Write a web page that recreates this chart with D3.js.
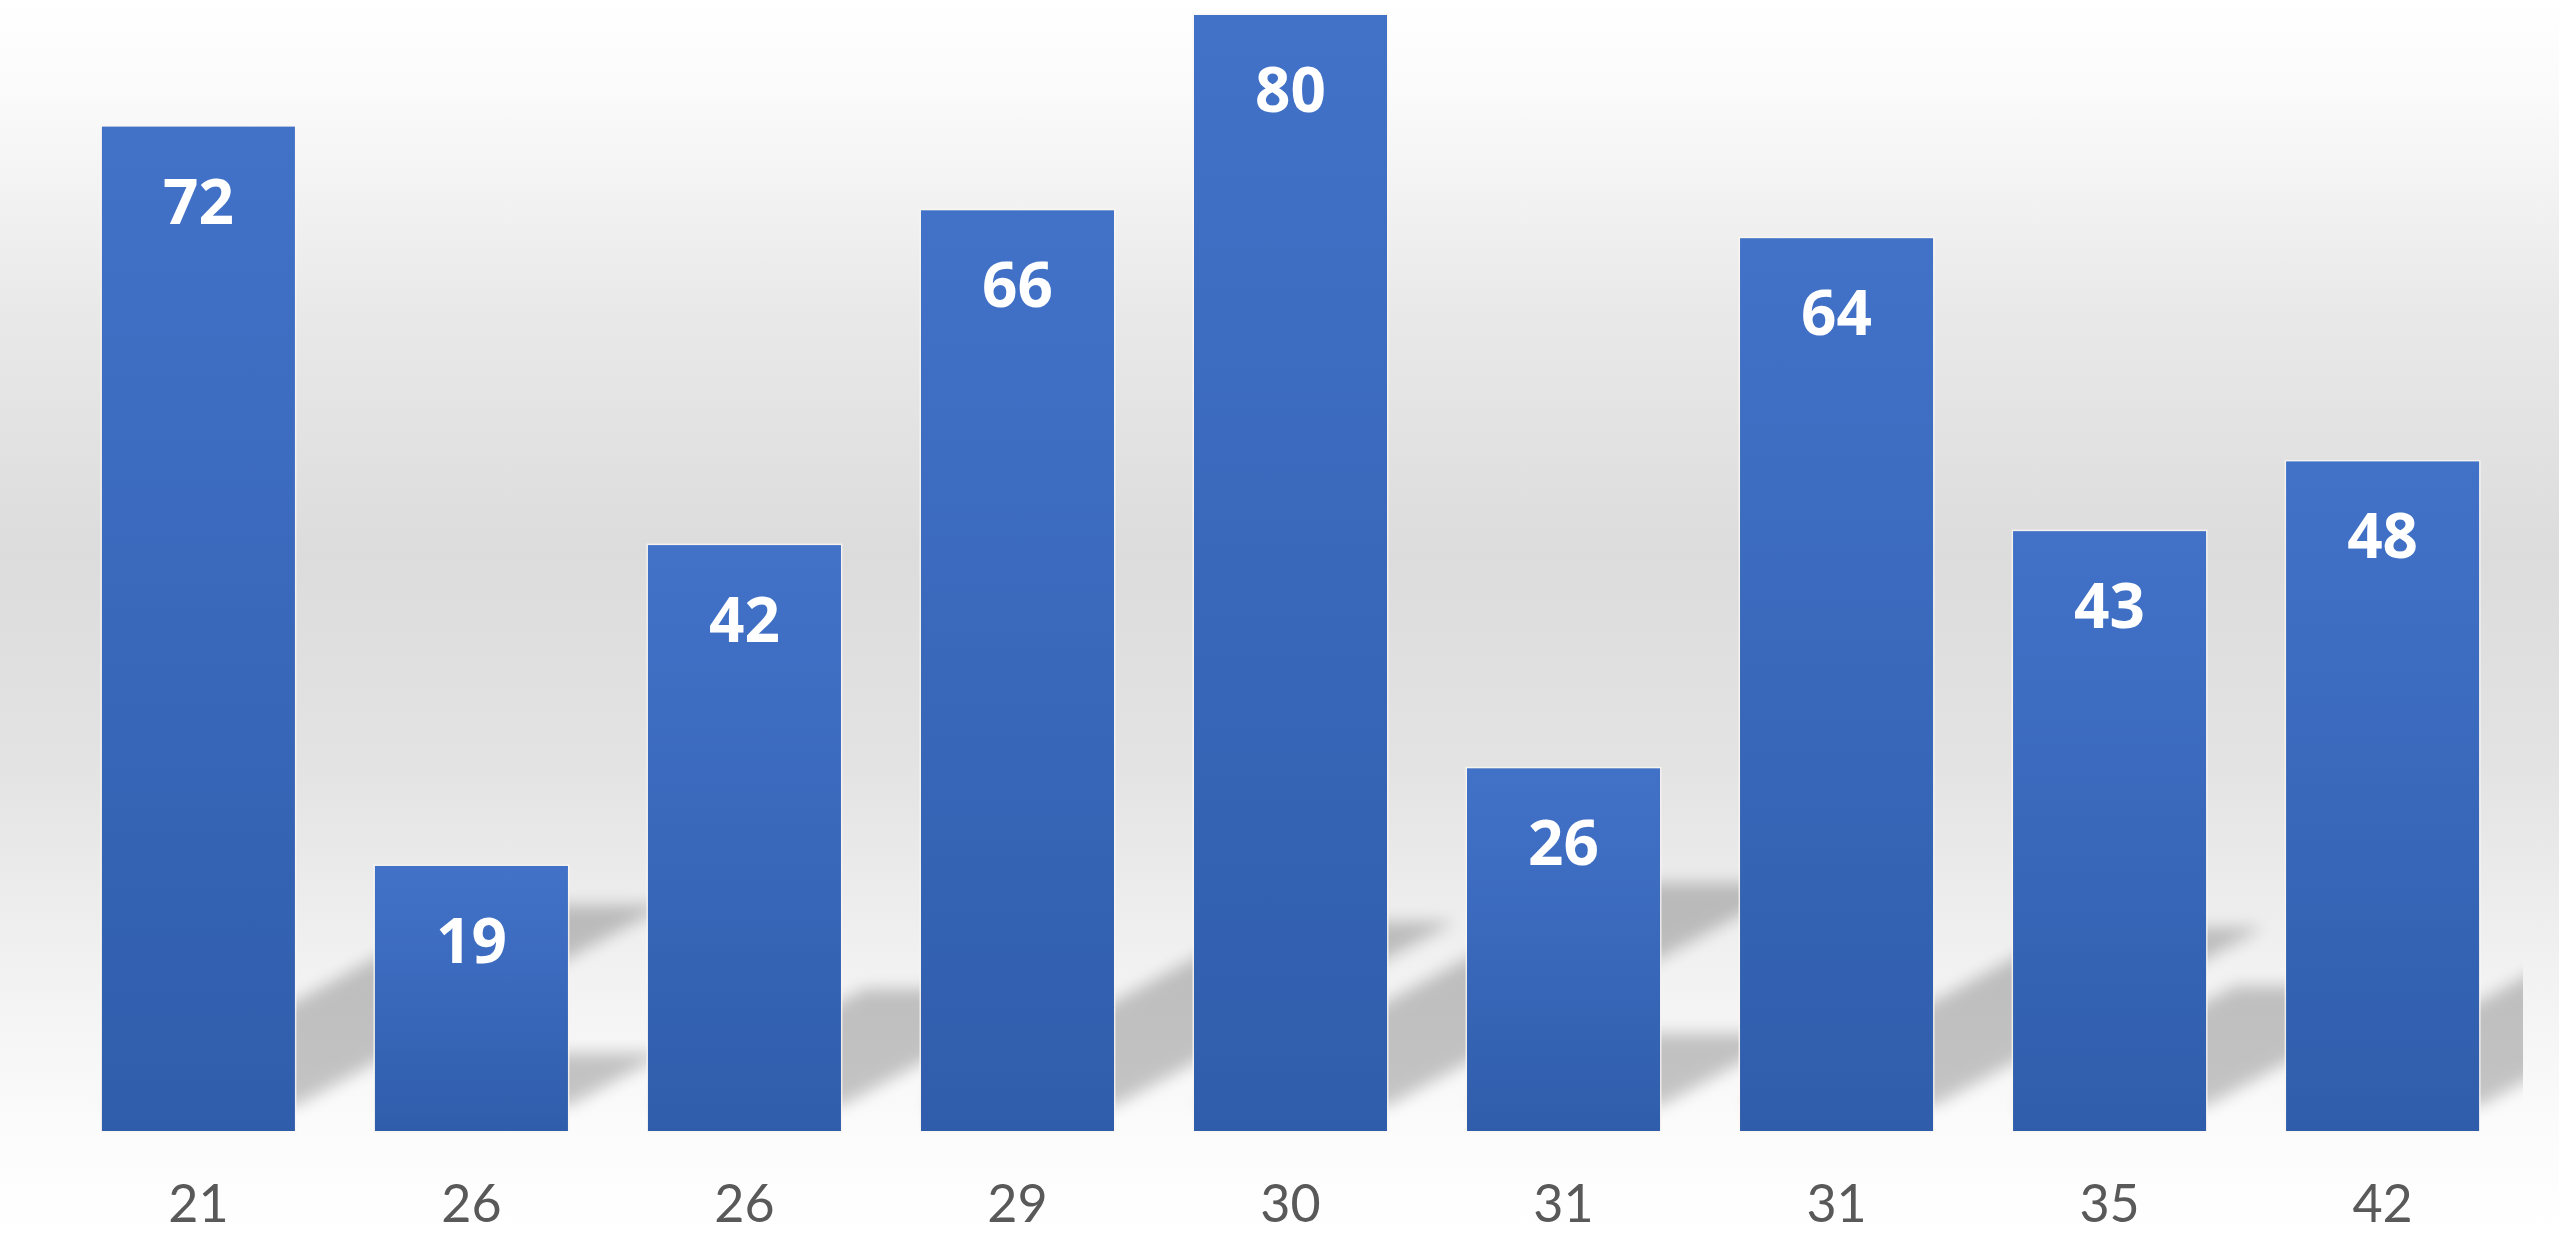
<!DOCTYPE html>
<html>
<head>
<meta charset="utf-8">
<script src="https://cdn.jsdelivr.net/npm/d3@7"></script>
<style>
  html, body { margin: 0; padding: 0; background: #ffffff; overflow: hidden; }
  svg { display: block; }
</style>
</head>
<body>
<div id="chart"></div>
<script>
// ---- data ----
const categories = ["21", "26", "26", "29", "30", "31", "31", "35", "42"];
const values = [72, 19, 42, 66, 80, 26, 64, 43, 48];
const yDomain = [0, 80];

// ---- layout ----
const W = 2559, H = 1233;
const baseY = 1131, topY = 15;
const plotRight = 2523;

const svg = d3.select("#chart").append("svg")
  .attr("width", W).attr("height", H);

const defs = svg.append("defs");

// background gradient
const bg = defs.append("linearGradient").attr("id", "bgGrad")
  .attr("x1", 0).attr("y1", 0).attr("x2", 0).attr("y2", 1);
[[0, "#ffffff"], [0.08, "#fafafa"], [0.25, "#e9e9e9"], [0.45, "#dcdcdc"],
 [0.62, "#e3e3e3"], [0.78, "#f1f1f1"], [0.91, "#fbfbfb"], [1, "#ffffff"]]
  .forEach(([o, c]) => bg.append("stop").attr("offset", o).attr("stop-color", c));

// bar gradient
const bar = defs.append("linearGradient").attr("id", "barGrad")
  .attr("x1", 0).attr("y1", 0).attr("x2", 0).attr("y2", 1);
[[0, "#4272c8"], [0.5, "#3968bb"], [1, "#305dab"]]
  .forEach(([o, c]) => bar.append("stop").attr("offset", o).attr("stop-color", c));

// blur for shadows
defs.append("filter").attr("id", "blur")
  .attr("x", "-20%").attr("y", "-20%").attr("width", "140%").attr("height", "140%")
  .append("feGaussianBlur").attr("stdDeviation", 8);

defs.append("clipPath").attr("id", "plotClip")
  .append("rect").attr("x", 0).attr("y", 0).attr("width", plotRight).attr("height", H);

svg.append("rect").attr("x", 0).attr("y", 0).attr("width", W).attr("height", H)
  .attr("fill", "url(#bgGrad)");

// ---- scales ----
const x = d3.scaleBand()
  .domain(d3.range(categories.length))
  .range([20, 2561])
  .paddingInner(0.293)
  .paddingOuter(0.3);

const y = d3.scaleLinear().domain(yDomain).range([baseY, topY]);

// ---- perspective shadows ----
const shadowS = 0.2, shadowK = 0.37, shadowLift = 25;
const shadowBase = baseY - shadowLift;
const shadowG = svg.append("g").attr("clip-path", "url(#plotClip)")
  .append("g").attr("filter", "url(#blur)").attr("opacity", 0.21);

shadowG.selectAll("path").data(values).join("path")
  .attr("fill", "#000")
  .attr("d", (d, i) => {
    const h = baseY - y(d);
    const x0 = x(i), x1 = x(i) + x.bandwidth();
    const dx = shadowK * h, dy = shadowS * h;
    return `M${x0},${shadowBase}L${x1},${shadowBase}L${x1 + dx},${shadowBase - dy}L${x0 + dx},${shadowBase - dy}Z`;
  });

// ---- bars ----
const barsG = svg.append("g");
barsG.selectAll("rect.halo").data(values).join("rect")
  .attr("class", "halo")
  .attr("x", (d, i) => x(i) - 1.5)
  .attr("y", d => y(d) - 1.5)
  .attr("width", x.bandwidth() + 3)
  .attr("height", d => baseY - y(d) + 3)
  .attr("fill", "#fbf8f2")
  .attr("opacity", 0.8);

barsG.selectAll("rect.bar").data(values).join("rect")
  .attr("class", "bar")
  .attr("x", (d, i) => x(i))
  .attr("y", d => y(d))
  .attr("width", x.bandwidth())
  .attr("height", d => baseY - y(d))
  .attr("fill", "url(#barGrad)");

// ---- data labels ----
svg.append("g").selectAll("text").data(values).join("text")
  .attr("x", (d, i) => x(i) + x.bandwidth() / 2)
  .attr("y", d => y(d) + 97)
  .attr("text-anchor", "middle")
  .attr("font-family", "'Open Sans', Lato, sans-serif")
  .attr("font-weight", 700)
  .attr("font-size", 62)
  .attr("fill", "#ffffff")
  .text(d => d);

// ---- category axis ----
const xAxis = d3.axisBottom(x).tickSize(0).tickFormat(i => categories[i]);
const axisG = svg.append("g")
  .attr("transform", `translate(0, ${baseY})`)
  .call(xAxis);
axisG.select(".domain").remove();
axisG.selectAll("text")
  .attr("y", 91)
  .attr("dy", 0)
  .attr("font-family", "Lato, 'Open Sans', sans-serif")
  .attr("font-size", 52)
  .attr("fill", "#595959");
</script>
</body>
</html>
